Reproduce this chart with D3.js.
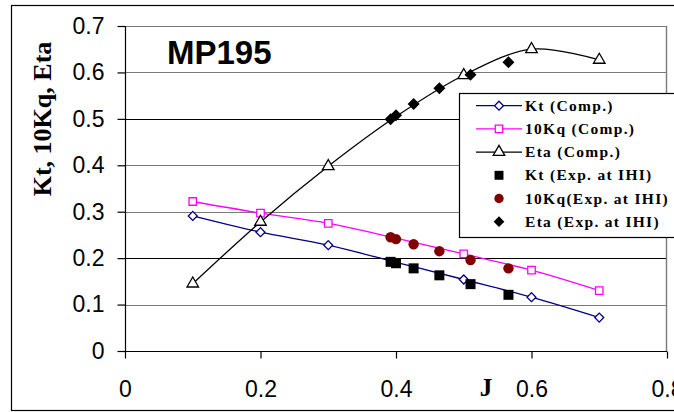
<!DOCTYPE html>
<html>
<head>
<meta charset="utf-8">
<script src="https://cdn.jsdelivr.net/npm/d3@7"></script>
<style>
  body { margin: 0; background: #fff; }
  svg { display: block; }
</style>
</head>
<body>
<div id="chart-area"></div>
<script>
// computed curves (J = advance ratio)
var jComp = [0.1, 0.2, 0.3, 0.4, 0.5, 0.6, 0.7];
var ktComp = [0.291, 0.256, 0.228, 0.191, 0.154, 0.116, 0.072];
var kqComp = [0.322, 0.297, 0.275, 0.243, 0.209, 0.174, 0.130];
var etaComp = [0.145, 0.278, 0.398, 0.505, 0.594, 0.650, 0.627];

// experiment at IHI
var jExp = [0.392, 0.400, 0.426, 0.464, 0.510, 0.566];
var ktExp = [0.192, 0.189, 0.178, 0.163, 0.144, 0.121];
var kqExp = [0.245, 0.241, 0.230, 0.215, 0.196, 0.178];
var etaExp = [0.499, 0.508, 0.532, 0.566, 0.595, 0.622];

var xTicks = [0, 0.2, 0.4, 0.6, 0.8];
var yTicks = [0, 0.1, 0.2, 0.3, 0.4, 0.5, 0.6, 0.7];
var legendLabels = ["Kt (Comp.)", "10Kq (Comp.)", "Eta (Comp.)",
                    "Kt (Exp. at IHI)", "10Kq(Exp. at IHI)", "Eta (Exp. at IHI)"];

var W = 674, H = 412;
var svg = d3.select("#chart-area").append("svg")
    .attr("width", W).attr("height", H);

// outer chart border
svg.append("rect")
    .attr("x", 11.5).attr("y", 5.5)
    .attr("width", 700).attr("height", 405)
    .attr("fill", "none").attr("stroke", "#000").attr("stroke-width", 1.2);

var x = d3.scaleLinear().domain([0, 0.8]).range([125, 667]);
var y = d3.scaleLinear().domain([0, 0.7]).range([351, 26]);

// gridlines (the scanned original shows some of them darker)
svg.append("g").selectAll("line")
  .data(yTicks.slice(1))
  .enter().append("line")
    .attr("x1", x(0)).attr("x2", x(0.8))
    .attr("y1", function(d) { return Math.round(y(d)) + 0.5; })
    .attr("y2", function(d) { return Math.round(y(d)) + 0.5; })
    .attr("stroke", function(d) { return (d == 0.2 || d == 0.5) ? "#000" : "#7a7a7a"; })
    .attr("stroke-width", 1.2);

// plot area right border
svg.append("line")
    .attr("x1", 666.5).attr("x2", 666.5).attr("y1", y(0.7)).attr("y2", y(0))
    .attr("stroke", "#7a7a7a").attr("stroke-width", 1.4);

// axes
var font = "'Liberation Sans', Arial, sans-serif";
var yAxis = svg.append("g")
    .attr("transform", "translate(125.5,0)")
    .call(d3.axisLeft(y).tickValues(yTicks).tickSize(8).tickPadding(13)
      .tickFormat(function(d) { return d === 0 ? "0" : d3.format(".1f")(d); }));
var xAxis = svg.append("g")
    .attr("transform", "translate(0," + (y(0) + 0.5) + ")")
    .call(d3.axisBottom(x).tickValues(xTicks).tickSize(7).tickPadding(22)
      .tickFormat(function(d) { return d === 0 ? "0" : d3.format(".1f")(d); }));
[xAxis, yAxis].forEach(function(a) {
  a.select(".domain").attr("stroke", "#000").attr("stroke-width", 1.2);
  a.selectAll(".tick line").attr("stroke", "#000").attr("stroke-width", 1.2);
  a.selectAll("text").attr("fill", "#000")
    .style("font-family", font).style("font-size", "23px");
});
yAxis.select(".domain").attr("d", "M0," + y(0.7) + "V" + (y(0) + 1));
xAxis.select(".domain").attr("d", "M" + x(0) + ",0H" + x(0.8));

// axis titles
svg.append("text")
    .attr("transform", "translate(51,119) rotate(-90)")
    .attr("text-anchor", "middle")
    .style("font-family", "'Liberation Serif', 'Times New Roman', serif")
    .style("font-weight", "bold").style("font-size", "26px")
    .text("Kt, 10Kq, Eta");
svg.append("text")
    .attr("x", 486).attr("y", 396)
    .attr("text-anchor", "middle")
    .style("font-family", "'Liberation Serif', 'Times New Roman', serif")
    .style("font-weight", "bold").style("font-size", "25px")
    .text("J");

svg.append("text")
    .attr("x", 167).attr("y", 64)
    .style("font-family", font)
    .style("font-weight", "bold").style("font-size", "33px")
    .text("MP195");

// lines
var line = d3.line()
    .curve(d3.curveCardinal)
    .x(function(d) { return x(d[0]); })
    .y(function(d) { return y(d[1]); });

// diamonds are squares turned 45 degrees
var compSeries = [
  { vals: ktComp, color: "#000080", symbol: d3.symbolSquare, rot: 45, size: 40 },
  { vals: kqComp, color: "#ff00ff", symbol: d3.symbolSquare, rot: 0, size: 56 },
  { vals: etaComp, color: "#000000", symbol: d3.symbolTriangle, rot: 0, size: 58 }
];
var expSeries = [
  { vals: ktExp, color: "#000000", symbol: d3.symbolSquare, rot: 0, size: 100 },
  { vals: kqExp, color: "#800000", symbol: d3.symbolCircle, rot: 0, size: 85 },
  { vals: etaExp, color: "#000000", symbol: d3.symbolSquare, rot: 45, size: 72 }
];

function place(s) {
  return function(d) {
    return "translate(" + x(d[0]) + "," + y(d[1]) + ") rotate(" + s.rot + ")";
  };
}

compSeries.forEach(function(s) {
  var pts = jComp.map(function(j, i) { return [j, s.vals[i]]; });
  svg.append("path")
    .datum(pts)
    .attr("fill", "none")
    .attr("stroke", s.color)
    .attr("stroke-width", 1.3)
    .attr("d", line);
  svg.append("g").selectAll("path")
    .data(pts.filter(function(p) { return p[0] != 0.4; }))
    .enter().append("path")
      .attr("transform", place(s))
      .attr("d", d3.symbol().type(s.symbol).size(s.size))
      .attr("fill", "#fff")
      .attr("stroke", s.color)
      .attr("stroke-width", 1.3);
});

expSeries.forEach(function(s) {
  svg.append("g").selectAll("path")
    .data(jExp.map(function(j, i) { return [j, s.vals[i]]; }))
    .enter().append("path")
      .attr("transform", place(s))
      .attr("d", d3.symbol().type(s.symbol).size(s.size))
      .attr("fill", s.color);
});

// legend
var legend = svg.append("g");
legend.append("rect")
    .attr("x", 459.5).attr("y", 93.5)
    .attr("width", 230).attr("height", 144)
    .attr("fill", "#fff").attr("stroke", "#000").attr("stroke-width", 1.2);

var allSeries = compSeries.concat(expSeries);
allSeries.forEach(function(s, i) {
  var cy = 105.7 + i * 23.2;
  if (i < 3) {
    legend.append("line")
      .attr("x1", 476).attr("x2", 522).attr("y1", cy).attr("y2", cy)
      .attr("stroke", s.color).attr("stroke-width", 1.3);
    legend.append("path")
      .attr("transform", "translate(499," + cy + ") rotate(" + s.rot + ")")
      .attr("d", d3.symbol().type(s.symbol).size(s.size))
      .attr("fill", "#fff").attr("stroke", s.color).attr("stroke-width", 1.3);
  } else {
    legend.append("path")
      .attr("transform", "translate(499," + cy + ") rotate(" + s.rot + ")")
      .attr("d", d3.symbol().type(s.symbol).size(s.size * 0.8))
      .attr("fill", s.color);
  }
  legend.append("text")
    .attr("x", 525).attr("y", cy + 5)
    .style("font-family", "'Liberation Serif', 'Times New Roman', serif")
    .style("font-weight", "bold").style("font-size", "15.5px")
    .style("letter-spacing", "1.3px")
    .text(legendLabels[i]);
});
</script>
</body>
</html>
